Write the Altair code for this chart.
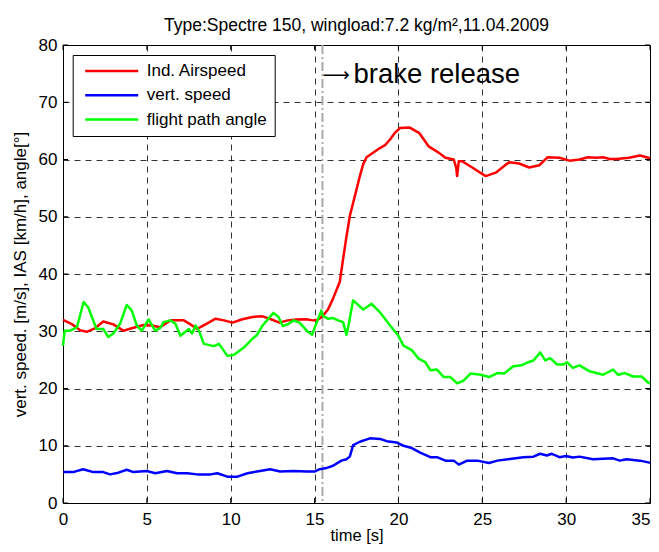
import altair as alt
import pandas as pd

# ---------------- data ----------------
series_names = ["Ind. Airspeed", "vert. speed", "flight path angle"]
series_colors = ["#ff0000", "#0000ff", "#00ff00"]

ias_t = [0, 0.5, 1.0, 1.4, 1.9, 2.4, 3.0, 3.6, 4.2, 4.8, 5.3, 5.8, 6.4, 7.2, 7.6, 8.0,
         8.5, 9.1, 9.6, 10.1, 10.7, 11.3, 11.9, 12.4, 12.9, 13.4, 13.9, 14.5, 14.9, 15.2,
         15.5, 15.8, 16.1, 16.5, 16.7, 16.9, 17.1, 17.4, 17.7, 17.9, 18.1, 18.4, 18.9, 19.2,
         19.5, 19.8, 20.1, 20.65, 21.25, 21.8, 22.4, 22.8, 23.3, 23.45, 23.5, 23.6, 23.8,
         24.4, 25.2, 25.8, 26.4, 26.6, 27.2, 27.8, 28.4, 28.9, 29.6, 30.2, 30.8, 31.3, 31.8,
         32.2, 32.6, 33.0, 33.75, 34.4, 34.9, 35.0]
ias_v = [32.0, 31.3, 30.2, 29.9, 30.5, 31.7, 31.2, 30.1, 30.6, 31.1, 31.0, 30.7, 31.9, 31.9,
         31.2, 30.4, 31.2, 32.2, 31.9, 31.5, 32.1, 32.5, 32.6, 32.1, 31.5, 31.9, 32.05, 32.1,
         31.9, 32.0, 32.7, 33.8, 35.7, 38.6, 42.6, 46.5, 50.1, 53.6, 57.1, 59.2, 60.4, 61.0,
         62.0, 62.5, 63.5, 64.7, 65.5, 65.6, 64.6, 62.3, 61.2, 60.3, 60.0, 58.5, 57.1, 59.7,
         59.7, 58.6, 57.1, 57.7, 59.1, 59.5, 59.3, 58.6, 59.0, 60.4, 60.3, 59.8, 60.0, 60.4,
         60.3, 60.4, 60.1, 60.1, 60.3, 60.7, 60.3, 60.2]

vs_t = [0, 0.6, 1.2, 1.8, 2.4, 2.8, 3.3, 3.8, 4.2, 5.0, 5.5, 6.2, 6.8, 7.4, 8.0, 8.8, 9.2,
        9.8, 10.4, 11.0, 11.75, 12.35, 12.95, 13.75, 14.55, 15.0, 15.3, 15.7, 16.1, 16.6,
        16.9, 17.1, 17.3, 17.7, 18.3, 18.9, 19.3, 19.9, 20.3, 20.8, 21.3, 21.9, 22.3, 22.8,
        23.3, 23.6, 24.1, 24.7, 25.4, 25.9, 26.65, 27.45, 28.05, 28.45, 28.85, 29.15, 29.6,
        30.0, 30.4, 30.8, 31.6, 32.8, 33.2, 33.6, 34.4, 34.9, 35.0]
vs_v = [5.4, 5.4, 5.9, 5.4, 5.4, 5.0, 5.3, 5.8, 5.4, 5.6, 5.2, 5.6, 5.2, 5.2, 5.0, 5.0, 5.2,
        4.6, 4.6, 5.2, 5.6, 5.9, 5.5, 5.6, 5.5, 5.5, 5.9, 6.1, 6.5, 7.4, 7.65, 8.1, 10.1,
        10.7, 11.3, 11.2, 10.8, 10.55, 10.0, 9.6, 8.8, 8.0, 8.0, 7.4, 7.4, 6.7, 7.4, 7.4,
        7.0, 7.4, 7.7, 8.0, 8.1, 8.6, 8.3, 8.6, 8.0, 8.2, 7.95, 8.1, 7.65, 7.8, 7.4, 7.65,
        7.4, 7.1, 7.0]

fpa_t = [0, 0.1, 0.43, 0.83, 1.23, 1.5, 1.8, 2.0, 2.4, 2.7, 3.0, 3.4, 3.8, 4.1, 4.4, 4.7,
         5.1, 5.5, 5.8, 6.0, 6.4, 6.7, 7.0, 7.3, 7.5, 7.7, 7.9, 8.1, 8.4, 9.0, 9.3, 9.8,
         10.2, 10.8, 11.3, 11.55, 11.9, 12.25, 12.55, 12.85, 13.1, 13.45, 13.75, 14.1, 14.6,
         14.85, 15.1, 15.4, 15.5, 15.8, 16.1, 16.4, 16.7, 16.9, 17.0, 17.3, 17.9, 18.4, 18.9,
         19.5, 20.0, 20.3, 20.8, 21.2, 21.6, 21.9, 22.3, 22.7, 23.1, 23.5, 23.9, 24.3, 24.9,
         25.4, 25.9, 26.3, 26.85, 27.35, 27.65, 28.05, 28.45, 28.75, 29.05, 29.45, 29.85,
         30.05, 30.4, 30.8, 31.4, 31.8, 32.2, 32.8, 33.1, 33.5, 34.0, 34.5, 34.9, 35.0]
fpa_v = [27.5, 30.1, 30.1, 30.7, 35.1, 34.2, 31.9, 30.4, 30.4, 29.0, 29.6, 31.3, 34.6, 33.6,
         31.0, 30.1, 32.05, 30.1, 30.6, 31.6, 31.9, 31.3, 29.2, 29.9, 30.4, 29.6, 31.0, 30.1,
         27.8, 27.4, 27.8, 25.7, 25.9, 27.2, 28.7, 29.3, 31.0, 32.2, 33.2, 32.5, 30.9, 31.3,
         31.9, 31.5, 29.9, 29.4, 31.3, 33.6, 32.7, 32.2, 32.3, 31.9, 31.6, 29.4, 30.7, 35.4,
         33.8, 34.8, 33.3, 31.0, 29.2, 27.5, 26.7, 25.2, 24.6, 23.2, 23.3, 22.0, 22.0, 20.9,
         21.4, 22.6, 22.4, 22.0, 22.7, 22.6, 23.9, 24.05, 24.5, 24.9, 26.3, 24.9, 25.3, 24.2,
         24.2, 24.6, 23.6, 24.05, 23.0, 22.7, 22.4, 23.3, 22.4, 22.7, 22.1, 22.1, 21.0, 20.9]

x_ticks = [0, 5, 10, 15, 20, 25, 30, 35]
y_ticks = [0, 10, 20, 30, 40, 50, 60, 70, 80]
brake_time = [15.47]
annotation_arrow = ["\u27f6"]
annotation_text = ["brake release"]
annotation_y = [73.4]

title_text = "Type:Spectre 150, wingload:7.2 kg/m\u00b2,11.04.2009"
x_title = "time [s]"
y_title = "vert. speed. [m/s], IAS [km/h], angle[\u00b0]"

# ---------------- tables ----------------
frames = []
for name, t, v in zip(series_names, [ias_t, vs_t, fpa_t], [ias_v, vs_v, fpa_v]):
    frames.append(pd.DataFrame({"t": t, "v": v, "series": name,
                                "order": list(range(len(t)))}))
df = pd.concat(frames, ignore_index=True)
xt_df = pd.DataFrame({"t": x_ticks})
yt_df = pd.DataFrame({"v": y_ticks})
brake_df = pd.DataFrame({"t": brake_time})
annot_df = pd.DataFrame({"t": brake_time, "v": annotation_y, "label": annotation_text,
                         "arrow": annotation_arrow})

FONT = "Liberation Sans"
W, H = 587, 458
xs = alt.Scale(domain=[0, 35], nice=False, zero=False)
ys = alt.Scale(domain=[0, 80], nice=False, zero=False)

x_enc = alt.X("t:Q", scale=xs,
              axis=alt.Axis(values=x_ticks, title=x_title, grid=True, ticks=False,
                            domain=False, labelPadding=8, titlePadding=0,
                            titleFontSize=16.5, labelFlush=False, format="d",
                            labelAlign={"expr": "datum.value == 35 ? 'right' : 'center'"}))
y_enc = alt.Y("v:Q", scale=ys,
              axis=alt.Axis(values=y_ticks, title=y_title, grid=True, ticks=False,
                            domain=False, labelPadding=6, titlePadding=9, format="d"))

brake_line = alt.Chart(brake_df).mark_rule(
    color="#a9a9a9", strokeWidth=2, strokeDash=[9, 3, 2, 3]
).encode(x=x_enc)

lines = alt.Chart(df).mark_line(strokeWidth=2.5, strokeJoin="round").encode(
    x=x_enc,
    y=y_enc,
    color=alt.Color("series:N",
                    scale=alt.Scale(domain=series_names, range=series_colors),
                    legend=alt.Legend(title=None, orient="none", legendX=9.7, legendY=10,
                                      symbolType="stroke", symbolSize=2809,
                                      symbolStrokeWidth=2.5, clipHeight=18,
                                      rowPadding=6.3, padding=7, symbolOffset=4,
                                      labelOffset=7, strokeColor="black",
                                      fillColor="white", labelFontSize=17,
                                      labelFont=FONT, labelColor="black",
                                      labelLimit=300)),
    order="order:Q",
)

tick_bottom = alt.Chart(xt_df).mark_rule(color="black", strokeWidth=1).encode(
    x=x_enc, y=alt.value(H), y2=alt.value(H - 5))
tick_top = alt.Chart(xt_df).mark_rule(color="black", strokeWidth=1).encode(
    x=x_enc, y=alt.value(0), y2=alt.value(5))
tick_left = alt.Chart(yt_df).mark_rule(color="black", strokeWidth=1).encode(
    y=y_enc, x=alt.value(0), x2=alt.value(5))
tick_right = alt.Chart(yt_df).mark_rule(color="black", strokeWidth=1).encode(
    y=y_enc, x=alt.value(W - 5), x2=alt.value(W))

annot_arrow = alt.Chart(annot_df).mark_text(
    align="left", baseline="alphabetic", fontSize=19, font="DejaVu Sans", color="black",
    dy=-2
).encode(x=x_enc, y=y_enc, text="arrow:N")

annot = alt.Chart(annot_df).mark_text(
    align="left", baseline="alphabetic", fontSize=27.5, font=FONT, color="black", dx=31
).encode(x=x_enc, y=y_enc, text="label:N")

chart = alt.layer(
    brake_line, tick_bottom, tick_top, tick_left, tick_right, lines, annot_arrow, annot
).properties(
    width=W, height=H,
    autosize=alt.AutoSizeParams(type="none"),
    padding={"left": 55, "top": 37, "right": 1, "bottom": 41},
    title=alt.TitleParams(text=title_text, fontSize=17.5, font=FONT, fontWeight="normal",
                          anchor="middle", frame="group", offset=10, dy=26,
                          baseline="bottom", color="black"),
).configure_view(
    stroke="black", strokeWidth=1
).configure_axis(
    labelFont=FONT, labelFontSize=17, labelColor="black",
    titleFont=FONT, titleFontSize=17, titleFontWeight="normal", titleColor="black",
    gridColor="#000000", gridDash=[6, 5], gridWidth=1, gridOpacity=0.8,
)

chart.save("out.html", embed_options={"renderer": "svg", "actions": False})
